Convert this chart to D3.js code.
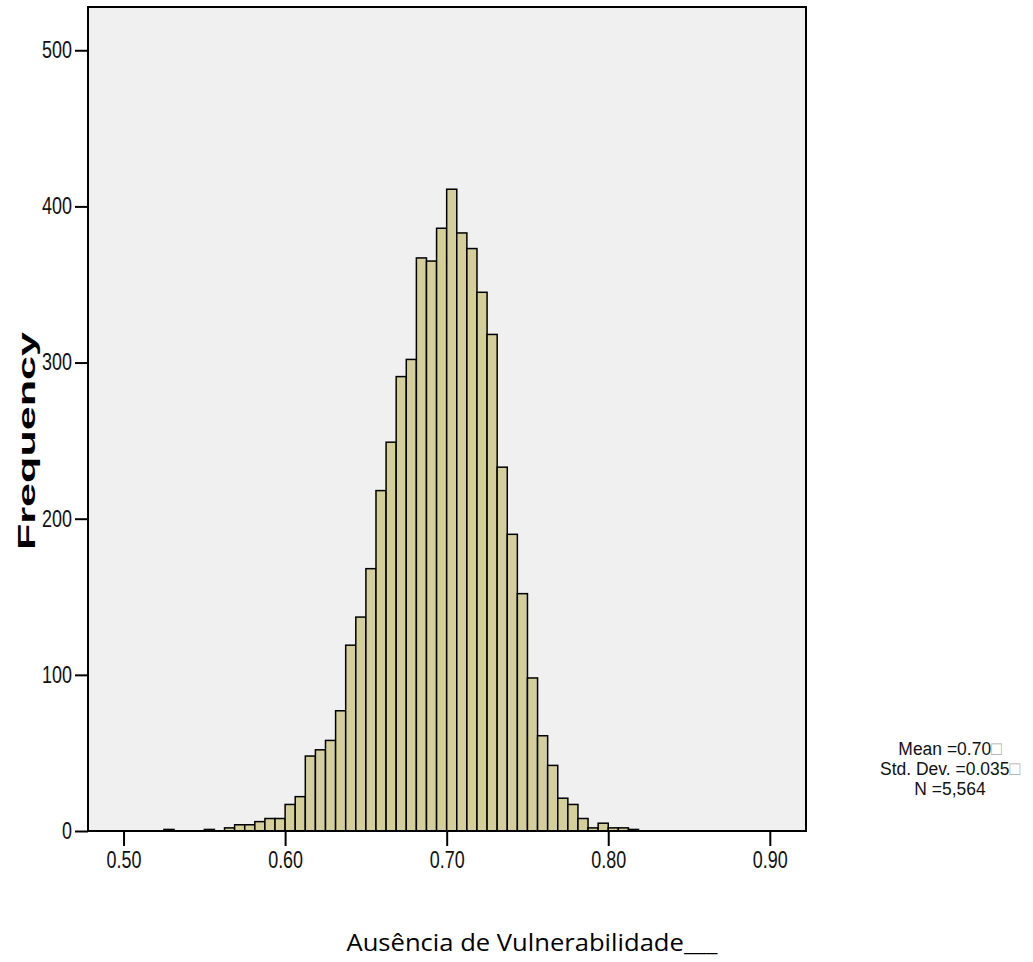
<!DOCTYPE html>
<html>
<head>
<meta charset="utf-8">
<script src="https://cdn.jsdelivr.net/npm/d3@7"></script>
<style>
  body { margin: 0; background: #fff; }
  .tick text { font-family: "Liberation Sans", Arial, sans-serif; font-size: 23px; fill: #111; }
  .stat { font-family: "Liberation Sans", Arial, sans-serif; font-size: 19px; fill: #111; }
</style>
</head>
<body>
<div id="chart"></div>
<script>
// histogram bins (lower edge) and counts
var binStarts = [0.525, 0.53125, 0.5375, 0.54375, 0.55, 0.55625, 0.5625, 0.56875, 0.575, 0.58125,
  0.5875, 0.59375, 0.6, 0.60625, 0.6125, 0.61875, 0.625, 0.63125, 0.6375, 0.64375,
  0.65, 0.65625, 0.6625, 0.66875, 0.675, 0.68125, 0.6875, 0.69375, 0.7, 0.70625,
  0.7125, 0.71875, 0.725, 0.73125, 0.7375, 0.74375, 0.75, 0.75625, 0.7625, 0.76875,
  0.775, 0.78125, 0.7875, 0.79375, 0.8, 0.80625, 0.8125];
var counts = [1, 0, 0, 0, 1, 0, 2, 4, 4, 6,
  8, 8, 17, 22, 48, 52, 58, 77, 119, 137,
  168, 218, 249, 291, 302, 367, 365, 386, 411, 383,
  373, 345, 318, 233, 190, 152, 98, 61, 42, 21,
  17, 8, 2, 5, 2, 2, 1];
var binWidth = 0.00625;
var xTicks = [0.5, 0.6, 0.7, 0.8, 0.9];
var yTicks = [0, 100, 200, 300, 400, 500];
var statLines = ["Mean =0.70", "Std. Dev. =0.035", "N =5,564"];

var svgWidth = 1033;
var svgHeight = 962;
var plot = { left: 88, right: 806, top: 7, bottom: 831 };
var narrow = 0.78; // squeeze to look like Arial Narrow

var svg = d3.select("#chart")
  .append("svg")
  .attr("width", svgWidth)
  .attr("height", svgHeight);

var x = d3.scaleLinear().domain([0.478, 0.9224]).range([plot.left, plot.right]);
var y = d3.scaleLinear().domain([0, 527.7]).range([plot.bottom, plot.top]);

// plot background
svg.append("rect")
  .attr("x", plot.left)
  .attr("y", plot.top)
  .attr("width", plot.right - plot.left)
  .attr("height", plot.bottom - plot.top)
  .attr("fill", "#f0f0f0");

// bars
svg.append("g")
  .selectAll("rect")
  .data(counts)
  .enter().append("rect")
    .attr("x", function(d, i) { return x(binStarts[i]); })
    .attr("y", function(d) { return y(d); })
    .attr("width", function(d, i) { return x(binStarts[i] + binWidth) - x(binStarts[i]); })
    .attr("height", function(d) { return plot.bottom - y(d); })
    .attr("fill", "#d4cf9a")
    .attr("stroke", "#000")
    .attr("stroke-width", 1.5)
    .style("display", function(d) { return d > 0 ? null : "none"; });

// frame
svg.append("rect")
  .attr("x", plot.left)
  .attr("y", plot.top)
  .attr("width", plot.right - plot.left)
  .attr("height", plot.bottom - plot.top)
  .attr("fill", "none")
  .attr("stroke", "#000")
  .attr("stroke-width", 2);

var bottomAxis = d3.axisBottom(x)
  .tickValues(xTicks)
  .tickFormat(d3.format(".2f"))
  .tickSize(15)
  .tickPadding(6);
var leftAxis = d3.axisLeft(y)
  .tickValues(yTicks)
  .tickSize(13);

var gx = svg.append("g")
  .attr("transform", "translate(0," + plot.bottom + ")")
  .call(bottomAxis);
var gy = svg.append("g")
  .attr("transform", "translate(" + plot.left + ",0)")
  .call(leftAxis);

[gx, gy].forEach(function(g) {
  g.select(".domain").remove();
  g.selectAll(".tick line").attr("stroke", "#000").attr("stroke-width", 2);
  g.selectAll(".tick text").attr("transform", "scale(" + narrow + ",1)");
});
gy.selectAll(".tick text").attr("x", -16 / narrow);

// axis titles
svg.append("text")
  .attr("transform", "translate(35," + ((plot.top + plot.bottom) / 2 + 22) + ") rotate(-90)")
  .attr("text-anchor", "middle")
  .attr("textLength", 218)
  .attr("lengthAdjust", "spacingAndGlyphs")
  .style("font-family", "'Liberation Sans', Arial, sans-serif")
  .style("font-weight", "bold")
  .style("font-size", "24px")
  .text("Frequency");

svg.append("text")
  .attr("x", 532)
  .attr("y", 951)
  .attr("text-anchor", "middle")
  .attr("textLength", 371)
  .attr("lengthAdjust", "spacingAndGlyphs")
  .style("font-family", "'Open Sans', sans-serif")
  .style("font-size", "23px")
  .text("Ausência de Vulnerabilidade___");

// summary statistics
var stats = svg.append("g")
  .attr("transform", "translate(950,0) scale(0.92,1)");
stats.selectAll("text")
  .data(statLines)
  .enter().append("text")
    .attr("class", "stat")
    .attr("x", 0)
    .attr("y", function(d, i) { return 755 + i * 20; })
    .attr("text-anchor", "middle")
    .each(function(d, i) {
      var t = d3.select(this);
      t.append("tspan").text(d);
      if (i < 2) t.append("tspan").attr("fill", "#aaa").text("\u25a1");
    });
</script>
</body>
</html>
